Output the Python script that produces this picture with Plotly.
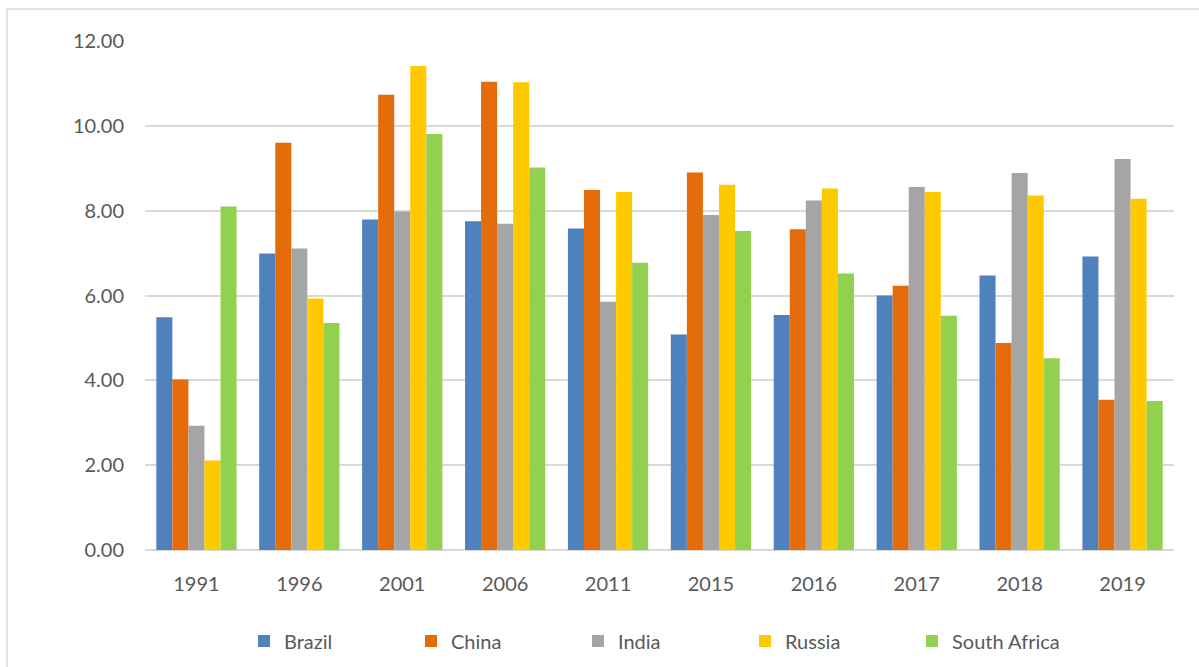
import plotly.graph_objects as go

years = ["1991", "1996", "2001", "2006", "2011", "2015", "2016", "2017", "2018", "2019"]
brazil = [5.49, 6.99, 7.79, 7.75, 7.58, 5.08, 5.54, 6.00, 6.47, 6.92]
china = [4.02, 9.60, 10.73, 11.04, 8.49, 8.90, 7.56, 6.23, 4.88, 3.54]
india = [2.93, 7.11, 7.98, 7.69, 5.85, 7.90, 8.24, 8.56, 8.89, 9.22]
russia = [2.11, 5.93, 11.41, 11.03, 8.44, 8.61, 8.52, 8.44, 8.36, 8.28]
south_africa = [8.10, 5.35, 9.81, 9.02, 6.77, 7.52, 6.52, 5.52, 4.52, 3.51]
y_ticks = [0, 2, 4, 6, 8, 10, 12]

series = [
    ("Brazil", brazil, "#4F81BD"),
    ("China", china, "#E46C0A"),
    ("India", india, "#A5A5A5"),
    ("Russia", russia, "#FFC900"),
    ("South Africa", south_africa, "#92D050"),
]

FONT = "Lato"
TXT = "#595959"
FS = 20

fig = go.Figure()
for name, vals, col in series:
    fig.add_trace(go.Bar(x=years, y=vals, name=name, marker=dict(color=col, line=dict(width=0))))

W, H = 1199, 667
L, R, T, B = 145, 25, 41, 117
pw, ph = W - L - R, H - T - B

fig.update_layout(
    width=W, height=H,
    margin=dict(l=L, r=R, t=T, b=B, pad=0, autoexpand=False),
    paper_bgcolor="white", plot_bgcolor="white",
    barmode="group", bargap=0.22, bargroupgap=0,
    font=dict(family=FONT, size=FS, color=TXT),
    showlegend=True,
    legend=dict(
        orientation="h", x=(244 - L) / pw, xanchor="left",
        y=-(641 - (T + ph)) / ph, yanchor="middle",
        font=dict(family=FONT, size=FS, color=TXT),
        entrywidth=122, entrywidthmode="pixels",
        bgcolor="rgba(0,0,0,0)",
    ),
    xaxis=dict(
        type="category", showgrid=False, showline=False, ticks="",
        tickfont=dict(family=FONT, size=FS, color=TXT),
        ticklabelstandoff=20,
    ),
    yaxis=dict(
        range=[0, 12], tickvals=y_ticks, tickformat=".2f",
        showgrid=True, gridcolor="#D9D9D9", gridwidth=1.5,
        zeroline=True, zerolinecolor="#D9D9D9", zerolinewidth=1.5,
        showline=False, ticks="",
        tickfont=dict(family=FONT, size=FS, color=TXT),
        ticklabelstandoff=20,
    ),
    shapes=[dict(
        type="rect", xref="paper", yref="paper",
        x0=(7 - L) / pw, x1=(1215 - L) / pw,
        y0=(T + ph - 690) / ph, y1=(T + ph - 9) / ph,
        line=dict(color="#D9D9D9", width=1.5), fillcolor="rgba(0,0,0,0)", layer="below",
    )],
)

fig.write_html("out.html")
